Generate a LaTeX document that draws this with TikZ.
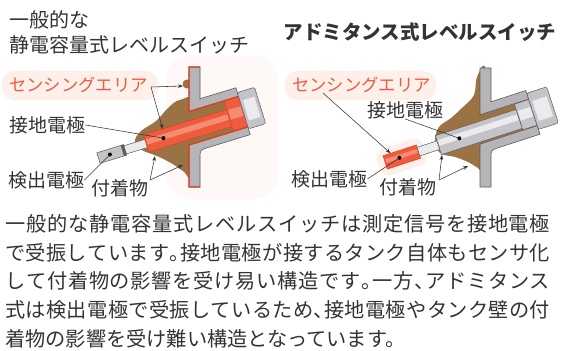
\documentclass[tikz,border=0pt]{standalone}
\usepackage{fontspec}
\setmainfont{Noto Sans CJK JP}
\usepackage{xcolor}
\usetikzlibrary{arrows.meta,positioning}

\definecolor{wallgray}{HTML}{B5B5B9}
\definecolor{edgegray}{HTML}{5C5C5C}
\definecolor{sensred}{HTML}{EF5B3E}
\definecolor{sensedge}{HTML}{E0401F}
\definecolor{senslight}{HTML}{F68C72}
\definecolor{mud}{HTML}{9A7243}
\definecolor{glow}{HTML}{FDEFEA}
\definecolor{ink}{HTML}{333333}
\definecolor{metal}{HTML}{C4C4C8}
\definecolor{metallight}{HTML}{EBEBED}

\newcommand{\bodyset}{\fontsize{20.2}{24}\selectfont\addfontfeatures{RawFeature=+halt}}
\def\spreadloop#1{\ifx#1\relax\else#1\hskip 0pt plus 1fil\expandafter\spreadloop\fi}
\newcommand{\spreadline}[1]{\hbox to 545pt{\spreadloop#1\relax\unskip}}

\tikzset{
  wall/.style={fill=wallgray,draw=edgegray,line width=0.6pt},
  hotedge/.style={draw=sensedge,line width=1.3pt},
  metalpart/.style={fill=metal,draw=edgegray,line width=0.5pt},
  redpart/.style={fill=sensred,draw=sensedge,line width=0.5pt},
  leader/.style={draw=ink,line width=0.55pt},
  arr/.style={leader,-{Stealth[length=5pt,width=3.6pt]}},
  dot/.style={circle,fill=black,inner sep=0pt,minimum size=4pt},
  lbl/.style={text=ink,font=\fontsize{19}{20}\selectfont,inner sep=0pt,anchor=west},
  senslbl/.style={text=sensred,font=\fontsize{17.3}{18}\selectfont,inner sep=0pt,anchor=west},
  body/.style={text=ink,font=\bodyset,inner sep=0pt,anchor=base west},
}

\begin{document}
\begin{tikzpicture}[x=1pt,y=-1pt]
                \useasboundingbox (0,0) rectangle (561,350);

                % sensing areas
                \fill[glow!40,rounded corners=24pt] (166,56) rectangle (278,199);
                \fill[glow,rounded corners=12pt] (2,71) rectangle (158,100);
                \fill[glow,rounded corners=12pt] (285,71) rectangle (436,100);

                \node[lbl,font=\fontsize{20}{21}\selectfont] (ttlA) at (9,20) {一般的な};
                \node[lbl,font=\fontsize{20}{21}\selectfont] (ttlB) at (9,45) {静電容量式レベルスイッチ};
                \node[text=ink,inner sep=0pt,font=\fontsize{19.5}{21}\selectfont\bfseries] (ttlR) at (420,32) {アドミタンス式レベルスイッチ};

                % left: capacitance type
                \fill[mud] plot[smooth cycle,tension=0.6] coordinates {(194,104) (180,100) (169,107) (156,121) (141,131) (135,141) (142,150) (157,156) (171,163) (183,171) (194,177)};
                \fill[mud] (187,84) circle (4.5);
                \fill[mud] (189,111.5) -- (238.5,96.4) -- (247.9,127) -- (189,145) -- cycle;
                \draw[wall] (189,67) -- (200,67) -- (200,98.7) -- (235.9,87.8) -- (238.5,96.4) -- (189,111.5) -- cycle;
                \draw[wall] (189,145) -- (247.9,127) -- (250.2,134.6) -- (208,147.5) .. controls (200,150) .. (200,158) -- (200,187) -- (189,187) -- cycle;
                \draw[hotedge] (200,67) -- (189,67) -- (189,111.5) -- (238.5,96.4);
                \draw[hotedge] (247.9,127) -- (189,145) -- (189,187) -- (200,187);

                \begin{scope}[shift={(195,128.5)},rotate=17]
                    \draw[metalpart] (-101,-5.5) rectangle (-73,5.5);
                    \fill[edgegray] (-76,-5.5) rectangle (-73,5.5);
                    \draw[metalpart,fill=metallight] (-73,-4.3) rectangle (-51,4.3);
                    \draw[redpart] (-51,-9) rectangle (36,9);
                    \fill[senslight] (-50,-4) rectangle (35,1.5);
                    \draw[redpart] (36,-17.5) rectangle (51,13.5);
                    \fill[senslight] (37,-8) rectangle (50,2);
                    \draw[metalpart,rounded corners=2pt] (51,-22) rectangle (69,16);
                    \fill[metallight] (54,-13) rectangle (66,8);
                    \coordinate (gndL) at (-33,0);
                    \coordinate (detL) at (-89,0);
                    \coordinate (senL) at (-31,-9);
                \end{scope}
                \node[dot] (gndLdot) at (gndL) {};
                \node[dot] (detLdot) at (detL) {};

                \node[senslbl] (lblSenL) at (9,85) {センシングエリア};
                \node[lbl] (lblGndL) at (9,125) {接地電極};
                \node[lbl] (lblDetL) at (8,180) {検出電極};
                \node[lbl] (lblDepL) at (91,188) {付着物};

                \coordinate (senLv) at (151,87);
                \coordinate (wallL) at (183,86);
                \coordinate (depLv) at (150,180);
                \coordinate (depLa) at (155,156);
                \coordinate (depLb) at (183,165);
                \draw[arr] (senLv) -- (wallL);
                \draw[arr] (senLv) -- (senL);
                \draw[leader] (lblGndL.east) -- (gndL);
                \draw[leader] (lblDetL.east) -- (detL);
                \draw[arr] (depLv) -- (depLa);
                \draw[arr] (depLv) -- (depLb);

                % right: admittance type
                \fill[mud] plot[smooth cycle,tension=0.6] coordinates {(486,72) (477,77) (474,95) (463,107) (451,118) (439,127) (435,140) (440,153) (455,157) (468,162) (478,168) (486,172)};
                \fill[mud] (480,114.8) -- (528.6,99.0) -- (537.2,125.7) -- (480,144.2) -- cycle;
                \draw[wall] (480,68) -- (491,68) -- (491,101.8) -- (525.8,90.5) -- (528.6,99.0) -- (480,114.8) -- cycle;
                \draw[wall] (480,144.2) -- (537.2,125.7) -- (540,134.2) -- (499,147.5) .. controls (491,150.1) .. (491,158) -- (491,187) -- (480,187) -- cycle;

                \begin{scope}[shift={(485,130)},rotate=18]
                    \fill[glow,rounded corners=10pt] (-112,-14) rectangle (-63,14);
                    \draw[redpart] (-105,-7) rectangle (-70,7);
                    \fill[senslight] (-104,-3) rectangle (-71,1);
                    \draw[metalpart,fill=metallight] (-70,-4.5) rectangle (-49,4.5);
                    \draw[metalpart] (-49,-10) rectangle (36,10);
                    \fill[metallight] (-48,-5) rectangle (35,1);
                    \draw[metalpart] (36,-15.5) rectangle (51,11.5);
                    \fill[metallight] (37,-8) rectangle (50,2);
                    \draw[metalpart,rounded corners=2pt] (51,-22) rectangle (72,16);
                    \fill[metallight] (54,-13) rectangle (69,8);
                    \coordinate (gndR) at (-27,0);
                    \coordinate (detR) at (-90,0);
                    \coordinate (senR) at (-97,-7);
                \end{scope}
                \node[dot] (gndRdot) at (gndR) {};
                \node[dot] (detRdot) at (detR) {};

                \node[senslbl] (lblSenR) at (292,85) {センシングエリア};
                \node[lbl] (lblGndR) at (367,110) {接地電極};
                \node[lbl] (lblDetR) at (291,179) {検出電極};
                \node[lbl] (lblDepR) at (379,187) {付着物};

                \coordinate (senRv) at (323,93);
                \coordinate (depRv) at (439,180);
                \coordinate (depRa) at (442,155);
                \coordinate (depRb) at (468,166);
                \draw[arr] (senRv) -- (senR);
                \draw[leader] (lblGndR.south) -- (gndR);
                \draw[leader] (lblDetR.east) -- (detR);
                \draw[arr] (depRv) -- (depRa);
                \draw[arr] (depRv) -- (depRb);

                % explanation
                \node[body] (txtA) at (5,231.7) {\spreadline{一般的な静電容量式レベルスイッチは測定信号を接地電極}};
                \node[body] (txtB) at (5,260.3) {\spreadline{で受振しています。接地電極が接するタンク自体もセンサ化}};
                \node[body] (txtC) at (5,288.9) {\spreadline{して付着物の影響を受け易い構造です。一方、アドミタンス}};
                \node[body] (txtD) at (5,317.5) {\spreadline{式は検出電極で受振しているため、接地電極やタンク壁の付}};
                \node[body] (txtE) at (5,346.1) {着物の影響を受け難い構造となっています。};
            \end{tikzpicture}
\end{document}
